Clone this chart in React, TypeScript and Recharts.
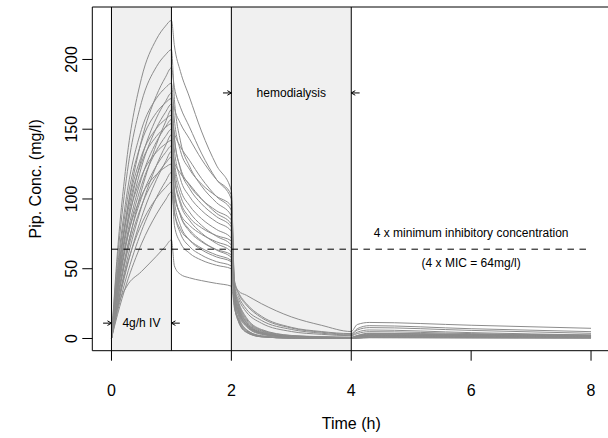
import React from 'react';
import { LineChart, Line, XAxis, YAxis, ReferenceArea, ReferenceLine, ReferenceDot } from 'recharts';

// sampling times (h)
const times = [0, 0.1, 0.25, 0.5, 0.75, 0.9, 1, 1.05, 1.15, 1.3, 1.5, 1.75, 2, 2.05, 2.12, 2.25, 2.5, 3, 3.5, 4, 4.1, 4.3, 6, 8];

// piperacillin concentration per patient (mg/l)
const p1 = [0, 62.2, 126.5, 186.5, 214.5, 223.9, 228, 209.7, 191.4, 173.1, 148.7, 124.3, 106, 42, 34, 31, 25, 15.5, 9.5, 5, 10, 11.5, 9.5, 7.3];
const p2 = [0, 56.5, 114.9, 169.3, 194.8, 203.3, 207, 171.3, 141.6, 123.7, 109.4, 97.5, 88, 36, 25, 14, 6, 2, 1.2, 0.8, 2, 3.5, 2.8, 2.2];
const p3 = [0, 40.7, 88.3, 141.8, 174.2, 187.2, 194, 179.9, 165.8, 151.7, 132.9, 114.1, 100, 40, 32, 24, 15, 7.5, 4.5, 3, 6, 7.8, 5.8, 3.7];
const p4 = [0, 50, 101.6, 149.7, 172.2, 179.7, 183, 156.6, 134.6, 121.4, 110.8, 102, 95, 37, 26, 15, 6.5, 2.2, 1.3, 0.9, 2.2, 3.8, 3, 2.4];
const p5 = [0, 37, 80.1, 128.7, 158, 169.8, 176, 165, 154.1, 143.2, 128.6, 114, 103, 41, 33, 25, 16, 8, 5, 3.5, 7, 9.2, 7, 4.9];
const p6 = [0, 47, 95.5, 140.7, 161.9, 168.9, 172, 144.4, 121.4, 107.6, 96.6, 87.4, 80, 34, 23, 12, 5, 1.5, 0.9, 0.6, 1.6, 2.8, 2.3, 1.8];
const p7 = [0, 35.3, 76.4, 122.8, 150.9, 162.1, 168, 143.1, 122.4, 109.9, 99.9, 91.6, 85, 35, 24, 13, 5.5, 1.7, 1, 0.7, 1.8, 3.2, 2.6, 2];
const p8 = [0, 26.6, 60.8, 105.9, 139.2, 155, 164, 117, 98.2, 86.9, 79.4, 73.8, 70, 30, 16, 6.5, 1.8, 0.4, 0.2, 0.1, 0.5, 1, 0.8, 0.6];
const p9 = [0, 43.7, 88.8, 130.9, 150.6, 157.1, 160, 135.1, 114.4, 101.9, 91.9, 83.6, 77, 33, 22, 11.5, 4.5, 1.3, 0.8, 0.5, 1.4, 2.5, 2, 1.6];
const p10 = [0, 33, 71.4, 114.8, 141, 151.5, 157, 147.3, 137.5, 127.8, 114.8, 101.8, 92, 38, 30, 21, 13, 6.5, 3.8, 2.5, 4.5, 6.1, 4.2, 2.5];
const p11 = [0, 42, 85.5, 126, 144.9, 151.2, 154, 107, 88.2, 76.9, 69.4, 63.8, 60, 27, 14, 5.5, 1.5, 0.3, 0.2, 0.1, 0.4, 0.8, 0.6, 0.5];
const p12 = [0, 31.5, 68.3, 109.7, 134.7, 144.8, 150, 126.6, 107.1, 95.4, 86, 78.2, 72, 32, 21, 11, 4.2, 1.2, 0.7, 0.5, 1.3, 2.3, 1.9, 1.5];
const p13 = [0, 23.7, 54.2, 94.3, 124, 138, 146, 122.3, 102.6, 90.7, 81.2, 73.3, 67, 31, 20, 10, 4, 1.1, 0.6, 0.4, 1.2, 2.1, 1.7, 1.3];
const p14 = [0, 38.8, 78.8, 116.2, 133.6, 139.4, 142, 98.5, 81.1, 70.7, 63.7, 58.5, 55, 26, 13, 5, 1.3, 0.3, 0.2, 0.1, 0.4, 0.7, 0.6, 0.4];
const p15 = [0, 29, 62.8, 100.9, 123.9, 133.2, 138, 115.2, 96.2, 84.8, 75.7, 68.1, 62, 30, 19, 9.5, 3.6, 1, 0.6, 0.4, 1.1, 1.9, 1.5, 1.2];
const p16 = [0, 21.7, 49.7, 86.6, 113.8, 126.6, 134, 126.2, 118.4, 110.6, 100.2, 89.8, 82, 36, 28, 19, 11, 5, 3, 2, 3.5, 4.9, 3.5, 2.2];
const p17 = [0, 27.3, 59.2, 95, 116.7, 125.5, 130, 91, 75.4, 66, 59.8, 55.1, 52, 25, 12, 4.5, 1.2, 0.3, 0.2, 0.1, 0.3, 0.6, 0.5, 0.4];
const p18 = [0, 34.1, 69.4, 102.3, 117.6, 122.8, 125, 104.9, 88.2, 78.1, 70.1, 63.4, 58, 29, 18, 9, 3.3, 0.9, 0.5, 0.3, 1, 1.7, 1.4, 1.1];
const p19 = [0, 19.3, 44.1, 76.9, 101, 112.5, 119, 102.8, 89.3, 81.2, 74.7, 69.3, 65, 31, 20, 10, 4, 1.1, 0.6, 0.4, 1.2, 2, 1.6, 1.3];
const p20 = [0, 23.5, 51, 81.9, 100.6, 108.1, 112, 81, 68.6, 61.2, 56.2, 52.5, 50, 24, 12, 4.5, 1.2, 0.3, 0.2, 0.1, 0.3, 0.6, 0.5, 0.4];
const p21 = [0, 17, 39, 67.8, 89.1, 99.2, 105, 90.3, 78.1, 70.7, 64.8, 59.9, 56, 28, 17, 8.5, 3, 0.8, 0.5, 0.3, 0.9, 1.6, 1.3, 1];
const p22 = [0, 22, 37, 48, 59, 66, 70.6, 52, 46, 43.5, 41.5, 39.5, 37.5, 22, 14, 6, 2, 0.5, 0.3, 0.2, 0.6, 1.1, 0.9, 0.7];

const patients = [p1, p2, p3, p4, p5, p6, p7, p8, p9, p10, p11, p12, p13, p14, p15, p16, p17, p18, p19, p20, p21, p22];

const xTicks = [0, 2, 4, 6, 8];
const yTicks = [0, 50, 100, 150, 200];
const xDomain = [-0.32, 8.32];
const yDomain = [-8.75, 237.6];
const infusionWindow = [0, 1];
const dialysisWindow = [2, 4];
const eventTimes = [0, 1, 2, 4];
const micLevel = 64;
const micSpan = [0, 8];

const annotations = [
  { text: 'hemodialysis', x: 3, y: 176 },
  { text: '4 x minimum inhibitory concentration', x: 6, y: 75.6 },
  { text: '(4 x MIC = 64mg/l)', x: 6, y: 54 },
  { text: '4g/h IV', x: 0.5, y: 11 },
];
const arrows = [
  { from: 1.86, to: 2, y: 176 },
  { from: 4.14, to: 4, y: 176 },
  { from: -0.14, to: 0, y: 11 },
  { from: 1.14, to: 1, y: 11 },
];

const data = times.map((t, i) => {
  const row: any = { t };
  patients.forEach((p, j) => { row['p' + (j + 1)] = p[i]; });
  return row;
});

const FONT = '"Liberation Sans", Arial, Helvetica, sans-serif';
const Y_LABEL_BASELINE_X = 77.3;

const XTick = (props: any) => (
  <text x={props.x} y={props.y} textAnchor="middle" fontSize={16} fill="#000" fontFamily={FONT}>
    {props.payload.value}
  </text>
);

const YTick = (props: any) => {
  const x = Y_LABEL_BASELINE_X;
  return (
    <text x={x} y={props.y} textAnchor="middle" fontSize={16} fill="#000" fontFamily={FONT}
      transform={`rotate(-90, ${x}, ${props.y})`}>
      {props.payload.value}
    </text>
  );
};

const XTitle = (props: any) => {
  const vb = props.viewBox || { x: 92.3, y: 350.7, width: 517.9, height: 87.3 };
  return (
    <text x={vb.x + vb.width / 2} y={vb.y + 78} textAnchor="middle" fontSize={16} fill="#000" fontFamily={FONT}>
      Time (h)
    </text>
  );
};

const YTitle = (props: any) => {
  const vb = props.viewBox || { x: 0, y: 7, width: 92.3, height: 343.7 };
  const cx = vb.x + 40.6;
  const cy = vb.y + vb.height / 2;
  return (
    <text x={cx} y={cy} textAnchor="middle" fontSize={16} fill="#000" fontFamily={FONT}
      transform={`rotate(-90, ${cx}, ${cy})`}>
      Pip. Conc. (mg/l)
    </text>
  );
};

const ArrowShape = (props: any) => {
  const { x1, y1, x2, y2 } = props;
  const d = x2 > x1 ? 1 : -1;
  const L = 4;
  const W = 2.3;
  return (
    <g>
      <line x1={x1} y1={y1} x2={x2} y2={y2} stroke="#000" strokeWidth={1} />
      <polyline points={`${x2 - d * L},${y2 - W} ${x2},${y2} ${x2 - d * L},${y2 + W}`} fill="none" stroke="#000" strokeWidth={1} />
    </g>
  );
};

export default function App() {
  return (
    <div style={{ position: 'absolute', left: 0, top: 0, width: 608, height: 438, overflow: 'hidden', background: '#fff' }}>
      <LineChart width={614} height={438} data={data} margin={{ top: 7, right: 3.8, bottom: 0, left: 0 }}>
        <XAxis type="number" dataKey="t" domain={xDomain} ticks={xTicks} allowDataOverflow
          height={87.3} tickSize={10} tickMargin={35.3} stroke="#000" tickLine={{ stroke: '#000' }}
          tick={<XTick />} label={<XTitle />} />
        <YAxis type="number" domain={yDomain} ticks={yTicks} allowDataOverflow
          width={92.3} tickSize={10} tickMargin={5} stroke="#000" tickLine={{ stroke: '#000' }}
          tick={<YTick />} label={<YTitle />} />
        <ReferenceArea x1={infusionWindow[0]} x2={infusionWindow[1]} fill="#f0f0f0" fillOpacity={1} stroke="none" />
        <ReferenceArea x1={dialysisWindow[0]} x2={dialysisWindow[1]} fill="#f0f0f0" fillOpacity={1} stroke="none" />
        {patients.map((_, j) => (
          <Line key={j} dataKey={'p' + (j + 1)} type="monotone" stroke="#8c8c8c" strokeWidth={1}
            dot={false} activeDot={false} isAnimationActive={false} />
        ))}
        {eventTimes.map((t) => (
          <ReferenceLine key={'v' + t} x={t} stroke="#000" strokeWidth={1} />
        ))}
        <ReferenceLine y={yDomain[1]} stroke="#000" strokeWidth={1} ifOverflow="visible" />
        <ReferenceLine segment={[{ x: micSpan[0], y: micLevel }, { x: micSpan[1], y: micLevel }]}
          stroke="#000" strokeWidth={1} strokeDasharray="6.5 5.5" />
        {arrows.map((a, i) => (
          <ReferenceLine key={'a' + i} segment={[{ x: a.from, y: a.y }, { x: a.to, y: a.y }]}
            stroke="#000" shape={ArrowShape} ifOverflow="visible" />
        ))}
        {annotations.map((a, i) => (
          <ReferenceDot key={'t' + i} x={a.x} y={a.y} r={0} ifOverflow="visible"
            shape={(p: any) => (
              <text x={p.cx} y={p.cy} dy="0.35em" textAnchor="middle" fontSize={12} fill="#000" fontFamily={FONT}>
                {a.text}
              </text>
            )} />
        ))}
      </LineChart>
    </div>
  );
}
